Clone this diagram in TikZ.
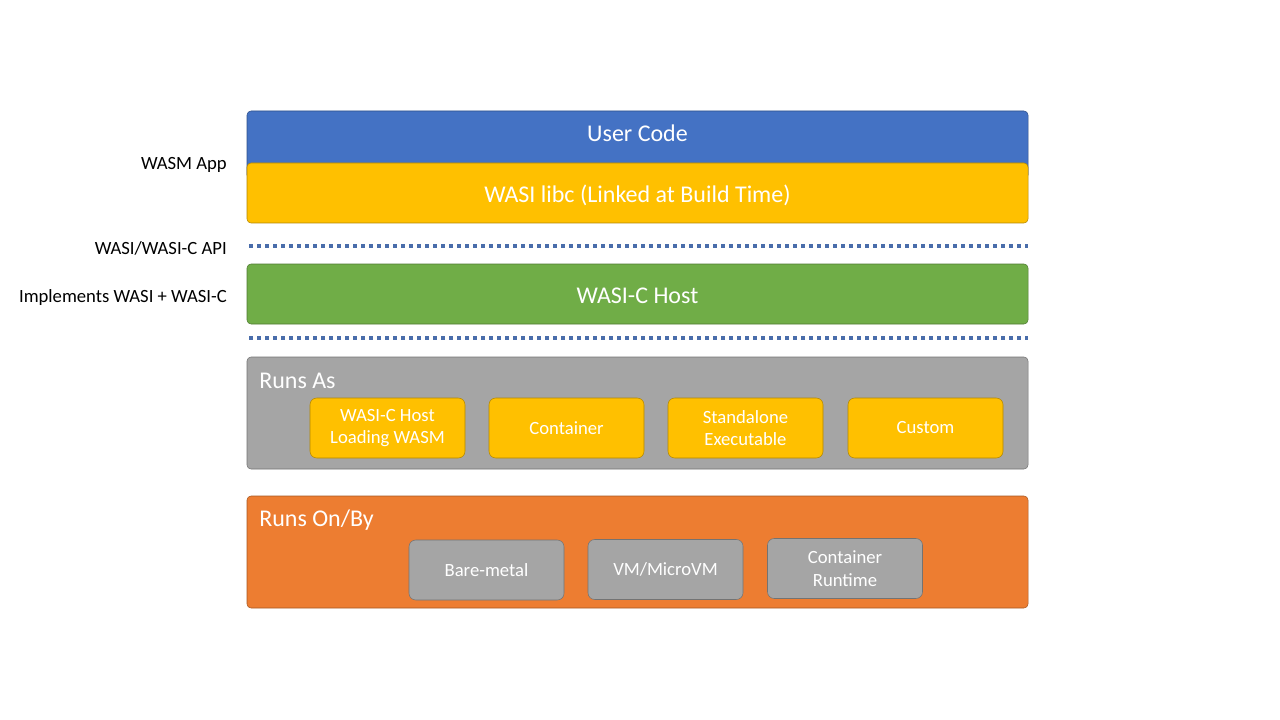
\documentclass[tikz,border=0pt]{standalone}
\usepackage{fontspec}
\setmainfont{Carlito}
\usetikzlibrary{positioning}
\definecolor{ublue}{HTML}{4472C4}
\definecolor{ugold}{HTML}{FFC000}
\definecolor{ugreen}{HTML}{70AD47}
\definecolor{ugrey}{HTML}{A5A5A5}
\definecolor{uorange}{HTML}{ED7D31}
\definecolor{sepblue}{HTML}{4A6DAB}
\tikzset{
  layer/.style ={draw=#1!70!black, fill=#1, rounded corners=3pt, text=white,
                 minimum width=585.75pt, inner sep=0pt, font=\fontsize{18}{21}\selectfont},
  chip/.style  ={draw=#1!70!black, fill=#1, rounded corners=5pt, text=white, align=center,
                 minimum width=116.25pt, minimum height=45pt, inner sep=0pt,
                 font=\fontsize{14}{17}\selectfont},
  ttl/.style   ={text=white, anchor=west, inner sep=0pt, font=\fontsize{18}{21}\selectfont},
  side/.style  ={anchor=east, inner sep=0pt, font=\fontsize{14}{17}\selectfont},
  sep/.style   ={draw=sepblue, line width=3pt, dash pattern=on 3pt off 3pt},
}
\begin{document}
\begin{tikzpicture}[x=0.75pt,y=-0.75pt]
\useasboundingbox (0,0) rectangle (1280,720);

% app layers
\node[layer=ublue, minimum height=51pt] (user) at (637.5,145) {};
\node[inner sep=0pt, text=white, font=\fontsize{18}{21}\selectfont] (usertxt) at (637.5,133) {User Code};
\node[layer=ugold, minimum height=45pt] (libc) at (637.5,193) {};
\node[inner sep=0pt, text=white, font=\fontsize{18}{21}\selectfont] (libctxt) at (637.5,195) {WASI libc (Linked at Build Time)};

% host
\node[layer=ugreen, minimum height=45pt] (host) at (637.5,294) {};
\node[inner sep=0pt, text=white, font=\fontsize{18}{21}\selectfont] (hosttxt) at (637.5,296) {WASI-C Host};

% separators
\draw[sep] (249,246) -- (1028,246);
\draw[sep] (249,338) -- (1028,338);

% runs as
\node[layer=ugrey, minimum height=84pt] (runsas) at (637.5,413) {};
\node[ttl] (runsastxt) at (259,381) {Runs As};
\node[chip=ugold] (hostload) at (387.5,428) {WASI-C Host\\Loading WASM};
\node[chip=ugold] (container) at (566.5,428) {Container};
\node[chip=ugold] (standalone) at (745.5,428) {Standalone\\Executable};
\node[chip=ugold] (custom) at (925.5,428) {Custom};

% runs on
\node[layer=uorange, minimum height=84pt] (runson) at (637.5,552) {};
\node[ttl] (runsontxt) at (259,520) {Runs On/By};
\node[chip=ugrey] (metal) at (486.5,570) {Bare-metal};
\node[chip=ugrey] (vm) at (665.5,569.5) {VM/MicroVM};
\node[chip=ugrey] (crt) at (845,568.5) {Container\\Runtime};

% side labels
\node[side] (applbl) at (227,165) {WASM App};
\node[side] (apilbl) at (227,248) {WASI/WASI-C API};
\node[side] (impllbl) at (227,298) {Implements WASI + WASI-C};
\end{tikzpicture}
\end{document}
